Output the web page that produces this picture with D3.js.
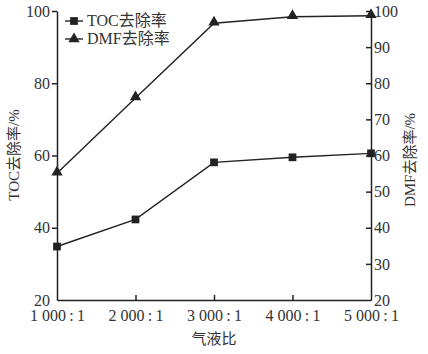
<!DOCTYPE html>
<html>
<head>
  <meta charset="utf-8">
  <script src="https://cdn.jsdelivr.net/npm/d3@7"></script>
  <style>
    body { margin: 0; background: #fff; }
    text { font-family: "Liberation Serif", "Noto Sans CJK SC", serif; fill: #333; }
  </style>
</head>
<body>
  <svg width="428" height="354" id="mainsvg"></svg>
  <script>
    // 气液比 categories and two series
    const ratios = ['1 000\u2009:\u20091', '2 000\u2009:\u20091', '3 000\u2009:\u20091', '4 000\u2009:\u20091', '5 000\u2009:\u20091'];
    const tocRemoval = [34.8, 42.3, 58.1, 59.5, 60.6];
    const dmfRemoval = [55.1, 75.9, 96.6, 98.4, 98.7];
    const leftTicks = [20, 40, 60, 80, 100];
    const rightTicks = [20, 30, 40, 50, 60, 70, 80, 90, 100];

    const svg = d3.select('#mainsvg');
    const margin = { top: 11, right: 57, bottom: 54, left: 57 };
    const width = +svg.attr('width');
    const height = +svg.attr('height');
    const innerWidth = width - margin.left - margin.right;   // 314
    const innerHeight = height - margin.top - margin.bottom; // 289
    const ink = '#222';

    const g = svg.append('g').attr('transform', `translate(${margin.left}, ${margin.top})`);

    const xScale = d3.scalePoint().domain(ratios).range([0, innerWidth]);
    const yLeft = d3.scaleLinear().domain([20, 100]).range([innerHeight, 0]);
    const yRight = d3.scaleLinear().domain([20, 100]).range([innerHeight, 0]);

    // axes
    const xAxis = d3.axisBottom(xScale).tickSizeInner(-5).tickSizeOuter(0).tickPadding(10);
    const yAxisL = d3.axisLeft(yLeft).tickValues(leftTicks).tickSizeInner(5).tickSizeOuter(0).tickPadding(2);
    const yAxisR = d3.axisRight(yRight).tickValues(rightTicks).tickSizeInner(-5).tickSizeOuter(0).tickPadding(3);

    const xg = g.append('g').attr('transform', `translate(0, ${innerHeight})`).call(xAxis);
    const ylg = g.append('g').call(yAxisL);
    const yrg = g.append('g').attr('transform', `translate(${innerWidth}, 0)`).call(yAxisR);

    [xg, ylg, yrg].forEach(a => {
      a.selectAll('path, line').attr('stroke', ink).attr('stroke-width', 1.5);
      a.selectAll('text').attr('font-size', 16).attr('fill', '#333');
    });
    // first/last x ticks sit on the spines
    xg.selectAll('.tick line').filter((d, i) => i === 0 || i === ratios.length - 1).remove();
    ylg.selectAll('.tick line').filter(d => d === 20).remove();
    yrg.selectAll('.tick line').filter(d => d === 20).remove();

    // axis labels
    svg.append('text').attr('x', margin.left + innerWidth / 2).attr('y', 344)
      .attr('text-anchor', 'middle').attr('font-size', 15).text('气液比');
    svg.append('text').attr('transform', `translate(19, 155) rotate(-90)`)
      .attr('text-anchor', 'middle').attr('font-size', 15).text('TOC去除率/%');
    svg.append('text').attr('transform', `translate(415, 160) rotate(-90)`)
      .attr('text-anchor', 'middle').attr('font-size', 15).text('DMF去除率/%');

    // lines
    const lineL = d3.line().x((d, i) => xScale(ratios[i])).y(d => yLeft(d));
    const lineR = d3.line().x((d, i) => xScale(ratios[i])).y(d => yRight(d));

    g.append('path').datum(tocRemoval).attr('d', lineL)
      .attr('fill', 'none').attr('stroke', ink).attr('stroke-width', 1.4);
    g.append('path').datum(dmfRemoval).attr('d', lineR)
      .attr('fill', 'none').attr('stroke', ink).attr('stroke-width', 1.4);

    const square = d3.symbol().type(d3.symbolSquare).size(60);
    const triangle = d3.symbol().type(d3.symbolTriangle).size(55);

    g.selectAll('.toc').data(tocRemoval).enter().append('path')
      .attr('class', 'toc')
      .attr('d', square)
      .attr('transform', (d, i) => `translate(${xScale(ratios[i])}, ${yLeft(d)})`)
      .attr('fill', ink);
    g.selectAll('.dmf').data(dmfRemoval).enter().append('path')
      .attr('class', 'dmf')
      .attr('d', triangle)
      .attr('transform', (d, i) => `translate(${xScale(ratios[i])}, ${yRight(d) - 1})`)
      .attr('fill', ink);

    // legend
    const legend = g.append('g').attr('transform', 'translate(8, 10)');
    const legendItems = [
      { name: 'TOC去除率', sym: square },
      { name: 'DMF去除率', sym: triangle }
    ];
    legendItems.forEach((item, i) => {
      const row = legend.append('g').attr('transform', `translate(0, ${i * 18})`);
      row.append('line').attr('x1', 0).attr('x2', 18).attr('y1', 0).attr('y2', 0)
        .attr('stroke', ink).attr('stroke-width', 1.4);
      row.append('path').attr('d', item.sym).attr('transform', 'translate(9, 0)').attr('fill', ink);
      row.append('text').attr('x', 22).attr('y', 5).attr('font-size', 16).text(item.name);
    });
  </script>
</body>
</html>
